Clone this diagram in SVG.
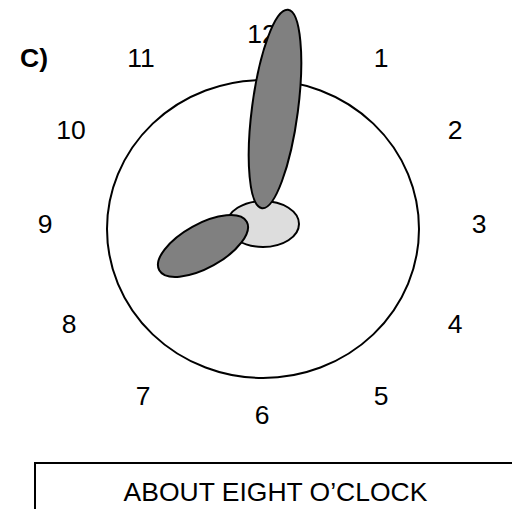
<svg xmlns="http://www.w3.org/2000/svg" width="512" height="509" viewBox="0 0 512 509">
<style>
text{font-family:"Liberation Sans",Arial,sans-serif;font-size:26.5px;fill:#000}
.n{text-anchor:middle}
.sh{stroke:#000;stroke-width:2}
</style>
<rect width="512" height="509" fill="#fff"/>
<g id="numbers">
<text class="n" x="262" y="43">12</text>
<text class="n" x="381" y="67">1</text>
<text class="n" x="455" y="139">2</text>
<text class="n" x="479" y="233">3</text>
<text class="n" x="455" y="333">4</text>
<text class="n" x="381" y="405">5</text>
<text class="n" x="262" y="424">6</text>
<text class="n" x="143" y="405">7</text>
<text class="n" x="69" y="333">8</text>
<text class="n" x="45" y="233">9</text>
<text class="n" x="71" y="139">10</text>
<text class="n" x="141" y="67">11</text>
</g>
<text id="label" x="20" y="67" style="font-weight:bold">C)</text>
<g id="face"><ellipse class="sh" cx="263" cy="229" rx="156" ry="149" fill="#fff"/></g>
<g id="hub"><ellipse class="sh" cx="263" cy="224" rx="36" ry="23" fill="#ddd"/></g>
<g id="hour-hand"><ellipse class="sh" cx="203" cy="246" rx="50" ry="22" fill="#808080" transform="rotate(-29 203 246)"/></g>
<g id="minute-hand"><ellipse class="sh" cx="275" cy="109" rx="23" ry="100" fill="#808080" transform="rotate(7.5 275 109)"/></g>
<g id="caption">
<rect x="35" y="463" width="490" height="60" fill="#fff" stroke="#000" stroke-width="2"/>
<text class="n" x="275.5" y="501">ABOUT EIGHT O’CLOCK</text>
</g>
</svg>
